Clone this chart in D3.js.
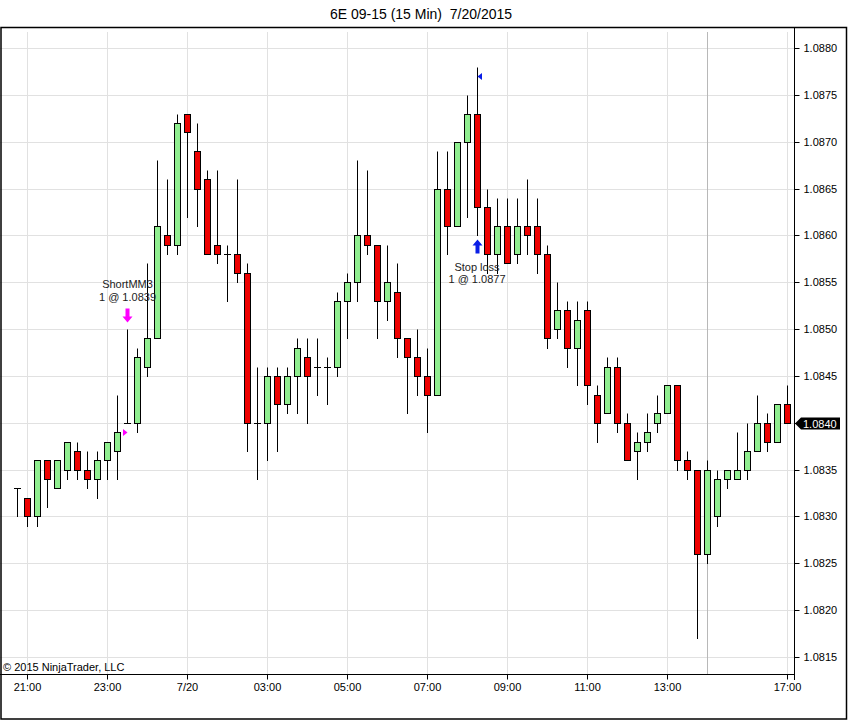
<!DOCTYPE html>
<html>
<head>
<meta charset="utf-8">
<script src="https://cdn.jsdelivr.net/npm/d3@7"></script>
<style>
  html, body { margin: 0; padding: 0; background: #fff; }
  svg { display: block; font-family: "Liberation Sans", Arial, sans-serif; }
</style>
</head>
<body>
<svg id="chart" width="848" height="720"></svg>
<script>
// ---- data ----
const times = ["20:45","21:00","21:15","21:30","21:45","22:00","22:15","22:30","22:45","23:00","23:15","23:30","23:45",
  "00:00","00:15","00:30","00:45","01:00","01:15","01:30","01:45","02:00","02:15","02:30","02:45","03:00","03:15","03:30","03:45",
  "04:00","04:15","04:30","04:45","05:00","05:15","05:30","05:45","06:00","06:15","06:30","06:45","07:00","07:15","07:30","07:45",
  "08:00","08:15","08:30","08:45","09:00","09:15","09:30","09:45","10:00","10:15","10:30","10:45","11:00","11:15","11:30","11:45",
  "12:00","12:15","12:30","12:45","13:00","13:15","13:30","13:45","14:00",
  "15:15","15:30","15:45","16:00","16:15","16:30","16:45","17:00"];
const openV  = [1.0833,1.0832,1.0830,1.0836,1.0833,1.0835,1.0837,1.0835,1.0834,1.0836,1.0837,1.0840,1.0840,1.0846,1.0849,1.0860,1.0859,1.0873,1.0869,1.0866,
  1.0859,1.0858,1.0858,1.0856,1.0840,1.0840,1.0845,1.0842,1.0845,1.0847,1.0846,1.0846,1.0846,1.0853,1.0855,1.0860,1.0859,1.0853,1.0854,1.0849,
  1.0847,1.0845,1.0843,1.0865,1.0861,1.0870,1.0873,1.0863,1.0858,1.0861,1.0858,1.0861,1.0861,1.0858,1.0850,1.0852,1.0848,1.0852,1.0843,1.0841,
  1.0846,1.0840,1.0837,1.0838,1.0840,1.0841,1.0844,1.0836,1.0835,1.0826,1.0830,1.0834,1.0834,1.0835,1.0837,1.0840,1.0838,1.0842];
const highV  = [1.0833,1.0832,1.0836,1.0836,1.0836,1.0838,1.0838,1.0837,1.0837,1.0838,1.0843,1.0850,1.0848,1.0857,1.0868,1.0866,1.0873,1.0873,1.0872,1.0867,
  1.0867,1.0859,1.0866,1.0857,1.0846,1.0846,1.0846,1.0846,1.0849,1.0849,1.0849,1.0847,1.0854,1.0856,1.0868,1.0867,1.0859,1.0859,1.0857,1.0849,
  1.0850,1.0848,1.0869,1.0869,1.0870,1.0875,1.0878,1.0865,1.0864,1.0864,1.0864,1.0866,1.0864,1.0859,1.0855,1.0853,1.0853,1.0853,1.0844,1.0847,
  1.0847,1.0841,1.0839,1.0841,1.0843,1.0844,1.0844,1.0837,1.0835,1.0836,1.0835,1.0835,1.0839,1.0840,1.0843,1.0841,1.0842,1.0844];
const lowV   = [1.0830,1.0829,1.0829,1.0831,1.0833,1.0834,1.0834,1.0833,1.0832,1.0834,1.0834,1.0840,1.0839,1.0845,1.0849,1.0858,1.0858,1.0862,1.0861,1.0858,
  1.0857,1.0853,1.0855,1.0837,1.0834,1.0836,1.0837,1.0841,1.0841,1.0840,1.0843,1.0842,1.0845,1.0849,1.0853,1.0858,1.0849,1.0851,1.0847,1.0841,
  1.0843,1.0839,1.0843,1.0858,1.0861,1.0862,1.0860,1.0856,1.0856,1.0857,1.0857,1.0858,1.0856,1.0848,1.0849,1.0846,1.0844,1.0842,1.0838,1.0841,
  1.0839,1.0836,1.0834,1.0837,1.0839,1.0841,1.0835,1.0834,1.0817,1.0825,1.0829,1.0833,1.0834,1.0834,1.0837,1.0837,1.0838,1.0840];
const closeV = [1.0833,1.0830,1.0836,1.0834,1.0836,1.0838,1.0835,1.0834,1.0836,1.0838,1.0839,1.0840,1.0847,1.0849,1.0861,1.0859,1.0872,1.0871,1.0865,1.0858,
  1.0858,1.0858,1.0856,1.0840,1.0840,1.0845,1.0842,1.0845,1.0848,1.0845,1.0846,1.0846,1.0853,1.0855,1.0860,1.0859,1.0853,1.0855,1.0849,1.0847,
  1.0845,1.0843,1.0865,1.0861,1.0870,1.0873,1.0863,1.0858,1.0861,1.0857,1.0861,1.0860,1.0858,1.0849,1.0852,1.0848,1.0851,1.0844,1.0840,1.0846,
  1.0840,1.0836,1.0838,1.0839,1.0841,1.0844,1.0836,1.0835,1.0826,1.0835,1.0834,1.0835,1.0835,1.0837,1.0840,1.0838,1.0842,1.0840];

const xTickIndex  = [1, 9, 17, 25, 33, 41, 49, 57, 65, 77];
const xTickLabels = ["21:00","23:00","7/20","03:00","05:00","07:00","09:00","11:00","13:00","17:00"];
const yTicks = [1.0815,1.0820,1.0825,1.0830,1.0835,1.0840,1.0845,1.0850,1.0855,1.0860,1.0865,1.0870,1.0875,1.0880];

const sessionBreakIndex = 69;
const lastPrice = 1.0840;
const entry = { index: 11, price: 1.0839, name: "ShortMM3", label: "1 @ 1.0839" };
const exit  = { index: 46, price: 1.0877, name: "Stop loss", label: "1 @ 1.0877" };
const titleText = "6E 09-15 (15 Min)  7/20/2015";

// ---- layout ----
const W = 848, H = 720;
const plotL = 0, plotR = 794, plotT = 27, plotB = 674;
const svg = d3.select("#chart");

const x = d3.scaleBand().domain(d3.range(times.length)).range([12, 792]);
const y = d3.scaleLinear().domain([1.0815, 1.0880]).range([657, 48]);
const cx = i => x(i) + x.bandwidth() / 2;     // bar centre
const py = v => Math.round(y(v)) + 0.5;        // crisp y

// title
svg.append("text").attr("x", 421).attr("y", 19).attr("text-anchor", "middle")
  .attr("font-size", 14).attr("fill", "#000").style("white-space", "pre").text(titleText);

// grid
const grid = svg.append("g");
grid.selectAll("line.h").data(yTicks).join("line")
  .attr("x1", plotL).attr("x2", plotR)
  .attr("y1", d => py(d)).attr("y2", d => py(d))
  .attr("stroke", "#e1e1e1").attr("stroke-width", 1);
grid.selectAll("line.v").data(xTickIndex).join("line")
  .attr("x1", d => Math.floor(cx(d)) + 0.5).attr("x2", d => Math.floor(cx(d)) + 0.5)
  .attr("y1", plotT + 5).attr("y2", plotB)
  .attr("stroke", "#e1e1e1").attr("stroke-width", 1);
// session break
grid.append("line")
  .attr("x1", Math.floor(cx(sessionBreakIndex)) + 0.5).attr("x2", Math.floor(cx(sessionBreakIndex)) + 0.5)
  .attr("y1", plotT + 5).attr("y2", plotB)
  .attr("stroke", "#b8b8b8").attr("stroke-width", 1);

// copyright
svg.append("text").attr("x", 3).attr("y", 671).attr("font-size", 11).attr("fill", "#000")
  .text("\u00a9 2015 NinjaTrader, LLC");

// candles
const bars = d3.range(times.length).map(i => ({ i, o: openV[i], h: highV[i], l: lowV[i], c: closeV[i] }));
const cg = svg.append("g");
cg.selectAll("line.wick").data(bars).join("line")
  .attr("x1", d => Math.floor(cx(d.i)) + 0.5).attr("x2", d => Math.floor(cx(d.i)) + 0.5)
  .attr("y1", d => py(d.h)).attr("y2", d => py(d.l) + 0.5)
  .attr("stroke", "#000").attr("stroke-width", 1);
cg.selectAll("rect.body").data(bars.filter(d => d.o !== d.c)).join("rect")
  .attr("x", d => Math.floor(cx(d.i)) - 2.5)
  .attr("width", 6)
  .attr("y", d => py(Math.max(d.o, d.c)))
  .attr("height", d => py(Math.min(d.o, d.c)) - py(Math.max(d.o, d.c)))
  .attr("fill", d => d.c > d.o ? "#90ee90" : "#ee0000")
  .attr("stroke", "#000").attr("stroke-width", 1);
cg.selectAll("line.doji").data(bars.filter(d => d.o === d.c)).join("line")
  .attr("x1", d => Math.floor(cx(d.i)) - 3).attr("x2", d => Math.floor(cx(d.i)) + 4)
  .attr("y1", d => py(d.o)).attr("y2", d => py(d.o))
  .attr("stroke", "#000").attr("stroke-width", 1);

// executions
const ex = Math.floor(cx(entry.index));
svg.append("path")
  .attr("d", `M${ex - 4},${py(entry.price) - 3.5} L${ex + 0.5},${py(entry.price)} L${ex - 4},${py(entry.price) + 3.5} Z`)
  .attr("fill", "#ff00ff");
const eTop = py(highV[entry.index]) - 21;
svg.append("path")
  .attr("d", `M${ex - 1.5},${eTop} h4 v8 h3 l-5,6 l-5,-6 h3 Z`)
  .attr("fill", "#ff00ff");
svg.append("text").attr("x", ex + 0.5).attr("y", eTop - 21).attr("text-anchor", "middle")
  .attr("font-size", 11).attr("fill", "#222").text(entry.name);
svg.append("text").attr("x", ex + 0.5).attr("y", eTop - 8).attr("text-anchor", "middle")
  .attr("font-size", 11).attr("fill", "#222").text(entry.label);

const sx = Math.floor(cx(exit.index));
svg.append("path")
  .attr("d", `M${sx + 5},${py(exit.price) - 3.5} L${sx + 0.5},${py(exit.price)} L${sx + 5},${py(exit.price) + 3.5} Z`)
  .attr("fill", "#0a1ee6");
const sTop = py(lowV[exit.index]) + 4;
svg.append("path")
  .attr("d", `M${sx + 0.5},${sTop} l5,6 h-3 v8 h-4 v-8 h-3 Z`)
  .attr("fill", "#0a1ee6");
svg.append("text").attr("x", sx).attr("y", sTop + 31).attr("text-anchor", "middle")
  .attr("font-size", 11).attr("fill", "#222").text(exit.name);
svg.append("text").attr("x", sx).attr("y", sTop + 43).attr("text-anchor", "middle")
  .attr("font-size", 11).attr("fill", "#222").text(exit.label);

// axes
const yAxis = d3.axisRight(y).tickValues(yTicks).tickSize(5).tickPadding(4).tickFormat(d3.format(".4f"));
const yg = svg.append("g").attr("transform", `translate(${plotR + 0.5},0)`).call(yAxis);
yg.select(".domain").remove();
yg.selectAll(".tick").attr("transform", d => `translate(0,${py(d)})`);
yg.selectAll("text").attr("font-size", 11).attr("font-family", "Liberation Sans, Arial, sans-serif").attr("fill", "#000");
// the tick label at the last price sits under the price tag
yg.selectAll(".tick").filter(d => Math.abs(d - lastPrice) < 1e-9).select("text").remove();

const xAxis = d3.axisBottom(x).tickValues(xTickIndex).tickSize(5).tickPadding(4)
  .tickFormat(d => xTickLabels[xTickIndex.indexOf(d)]);
const xg = svg.append("g").attr("transform", `translate(0,${plotB + 0.5})`).call(xAxis);
xg.select(".domain").remove();
xg.selectAll(".tick").attr("transform", d => `translate(${Math.floor(cx(d)) + 0.5},0)`);
xg.selectAll("text").attr("font-size", 11).attr("font-family", "Liberation Sans, Arial, sans-serif").attr("fill", "#000");

// frame lines
svg.append("line").attr("x1", 0).attr("x2", plotR + 1).attr("y1", plotB + 0.5).attr("y2", plotB + 0.5).attr("stroke", "#000");
svg.append("line").attr("x1", plotR + 0.5).attr("x2", plotR + 0.5).attr("y1", plotT).attr("y2", plotB + 6).attr("stroke", "#000");
svg.append("rect").attr("x", 1).attr("y", plotT + 0.5).attr("width", W - 2.5).attr("height", H - plotT - 1.5)
  .attr("fill", "none").attr("stroke", "#000").attr("stroke-width", 1.5);

// last price tag
const ly = py(lastPrice);
svg.append("path")
  .attr("d", `M${plotR + 1},${ly} L${plotR + 7},${ly - 6} H840 V${ly + 6} H${plotR + 7} Z`)
  .attr("fill", "#000");
svg.append("text").attr("x", 803).attr("y", ly + 4).attr("font-size", 11).attr("fill", "#fff")
  .text(d3.format(".4f")(lastPrice));
</script>
</body>
</html>
